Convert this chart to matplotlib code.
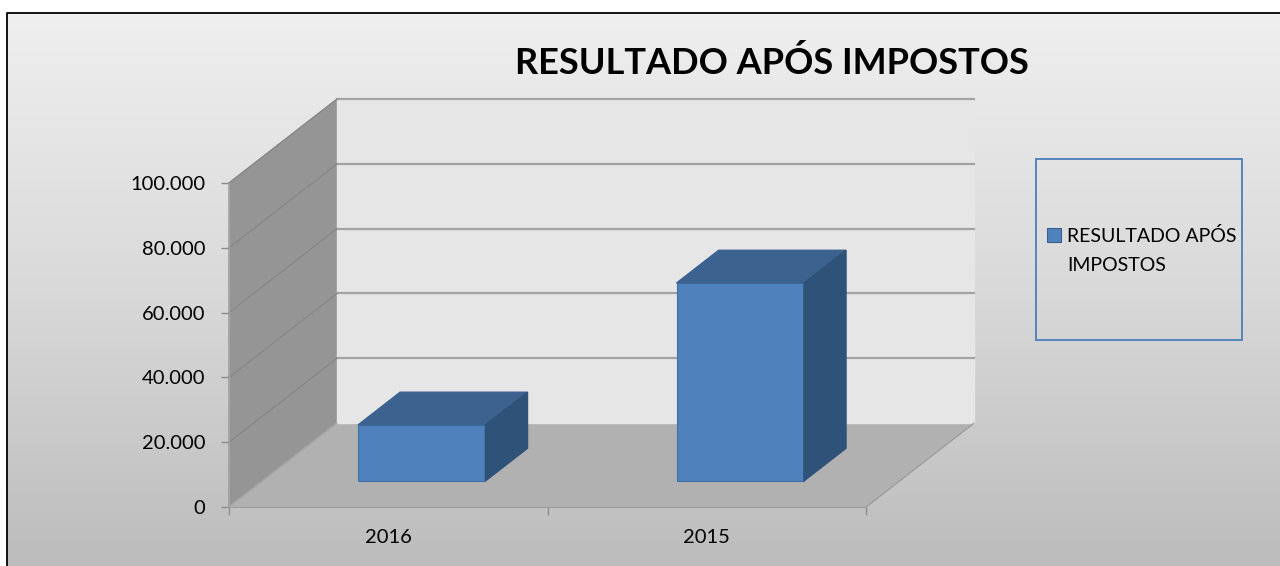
import matplotlib
matplotlib.use("Agg")
import matplotlib.pyplot as plt
from matplotlib.colors import LinearSegmentedColormap
from matplotlib.patches import Rectangle
from matplotlib.ticker import FuncFormatter
import numpy as np

categories = ['2016', '2015']
values = [17300, 61100]
series_name = 'RESULTADO APÓS IMPOSTOS'
y_ticks = [0, 20000, 40000, 60000, 80000, 100000]

plt.rcParams['font.family'] = ['Lato', 'DejaVu Sans']

W, H = 1280, 566
fig = plt.figure(figsize=(W / 100, H / 100), dpi=100)
fig.patch.set_facecolor('white')

# background panel (pixel coordinates)
bg = fig.add_axes([0, 0, 1, 1])
bg.set_xlim(0, W)
bg.set_ylim(H, 0)
bg.axis('off')
grad = np.linspace(0, 1, 256).reshape(-1, 1)
cmap = LinearSegmentedColormap.from_list('bg', ['#efefef', '#d9d9d9', '#bcbcbc'])
bg.imshow(grad, cmap=cmap, aspect='auto', extent=(7, W + 2, H + 2, 13), zorder=0)
bg.plot([7, 7, W + 2], [H + 2, 13, 13], color='black', lw=1.3, zorder=1)

# oblique 3d look: depth offset in data units
DX = 0.339
DY = 25900
d0, d1 = 0.31, 0.70
bw = 0.40

ax = fig.add_axes([229 / W, 1 - 507 / H, 637 / W, 324 / H])
ax.set_xlim(0, len(categories))
ax.set_ylim(0, 100000)
ax.patch.set_visible(False)

n = len(categories)
ymax = y_ticks[-1]

# side wall, floor, back wall
ax.fill([0, 0, DX, DX], [0, ymax, ymax + DY, DY], color='#959595', clip_on=False, zorder=1)
ax.fill([0, n, n + DX, DX], [0, 0, DY, DY], color='#b1b1b1', clip_on=False, zorder=1)
ax.fill([DX, n + DX, n + DX, DX], [DY, DY, ymax + DY, ymax + DY], color='#e6e6e6',
        clip_on=False, zorder=1)
ax.plot([n, n + DX], [0, DY], color='#9a9a9a', lw=0.8, clip_on=False, zorder=1.5)
ax.plot([0, DX], [0, DY], color='#a4a4a4', lw=0.8, clip_on=False, zorder=1.5)

for v in y_ticks[1:]:
    ax.plot([DX, n + DX], [v + DY, v + DY], color='#a3a3a3', lw=1.6, clip_on=False, zorder=1.5)
    ax.plot([0, DX], [v, v + DY], color='#858585', lw=0.8, clip_on=False, zorder=1.5)

# bars
front_c = '#4f81bd'
top_c = '#3c6290'
side_c = '#2f5279'
xs = np.arange(n) + 0.5
for xc, v in zip(xs, values):
    x0 = xc - bw / 2
    x1 = xc + bw / 2
    ax.bar(xc + d0 * DX, v, bw, bottom=d0 * DY, color=front_c, edgecolor='#4271a8',
           lw=0.8, clip_on=False, zorder=3)
    ax.fill([x0 + d0 * DX, x1 + d0 * DX, x1 + d1 * DX, x0 + d1 * DX],
            [v + d0 * DY, v + d0 * DY, v + d1 * DY, v + d1 * DY],
            color=top_c, clip_on=False, zorder=3)
    ax.fill([x1 + d0 * DX, x1 + d1 * DX, x1 + d1 * DX, x1 + d0 * DX],
            [d0 * DY, d1 * DY, v + d1 * DY, v + d0 * DY],
            color=side_c, clip_on=False, zorder=3)

# axes
for s in ['top', 'right']:
    ax.spines[s].set_visible(False)
ax.spines['left'].set_color('#a6a6a6')
ax.spines['bottom'].set_color('#9e9e9e')
ax.set_yticks(y_ticks)
ax.yaxis.set_major_formatter(FuncFormatter(lambda v, p: f'{int(v):,}'.replace(',', '.')))
ax.tick_params(axis='y', colors='#8c8c8c', length=6, width=1, labelcolor='black',
               labelsize=14.5, pad=11)
ax.set_xticks(np.arange(n + 1))
ax.set_xticklabels([])
ax.set_xticks(xs, minor=True)
ax.set_xticklabels(categories, minor=True)
ax.tick_params(axis='x', which='major', colors='#8c8c8c', length=6, width=1)
ax.tick_params(axis='x', which='minor', length=0, labelsize=14.5, pad=16)

# title
bg.text(772, 74, series_name, ha='center', va='baseline', fontsize=26,
        fontweight='bold', color='black', zorder=5)

# legend
bg.add_patch(Rectangle((1036, 159), 206, 181, fill=False, edgecolor='#4a7ebb', lw=1.3, zorder=5))
bg.add_patch(Rectangle((1047, 228), 14, 14, facecolor=front_c, edgecolor='#3a5f8c', lw=0.8, zorder=5))
bg.text(1067, 242, 'RESULTADO APÓS', ha='left', va='baseline', fontsize=14, zorder=5)
bg.text(1067, 271, 'IMPOSTOS', ha='left', va='baseline', fontsize=14, zorder=5)

fig.savefig('out.png', dpi=100)
